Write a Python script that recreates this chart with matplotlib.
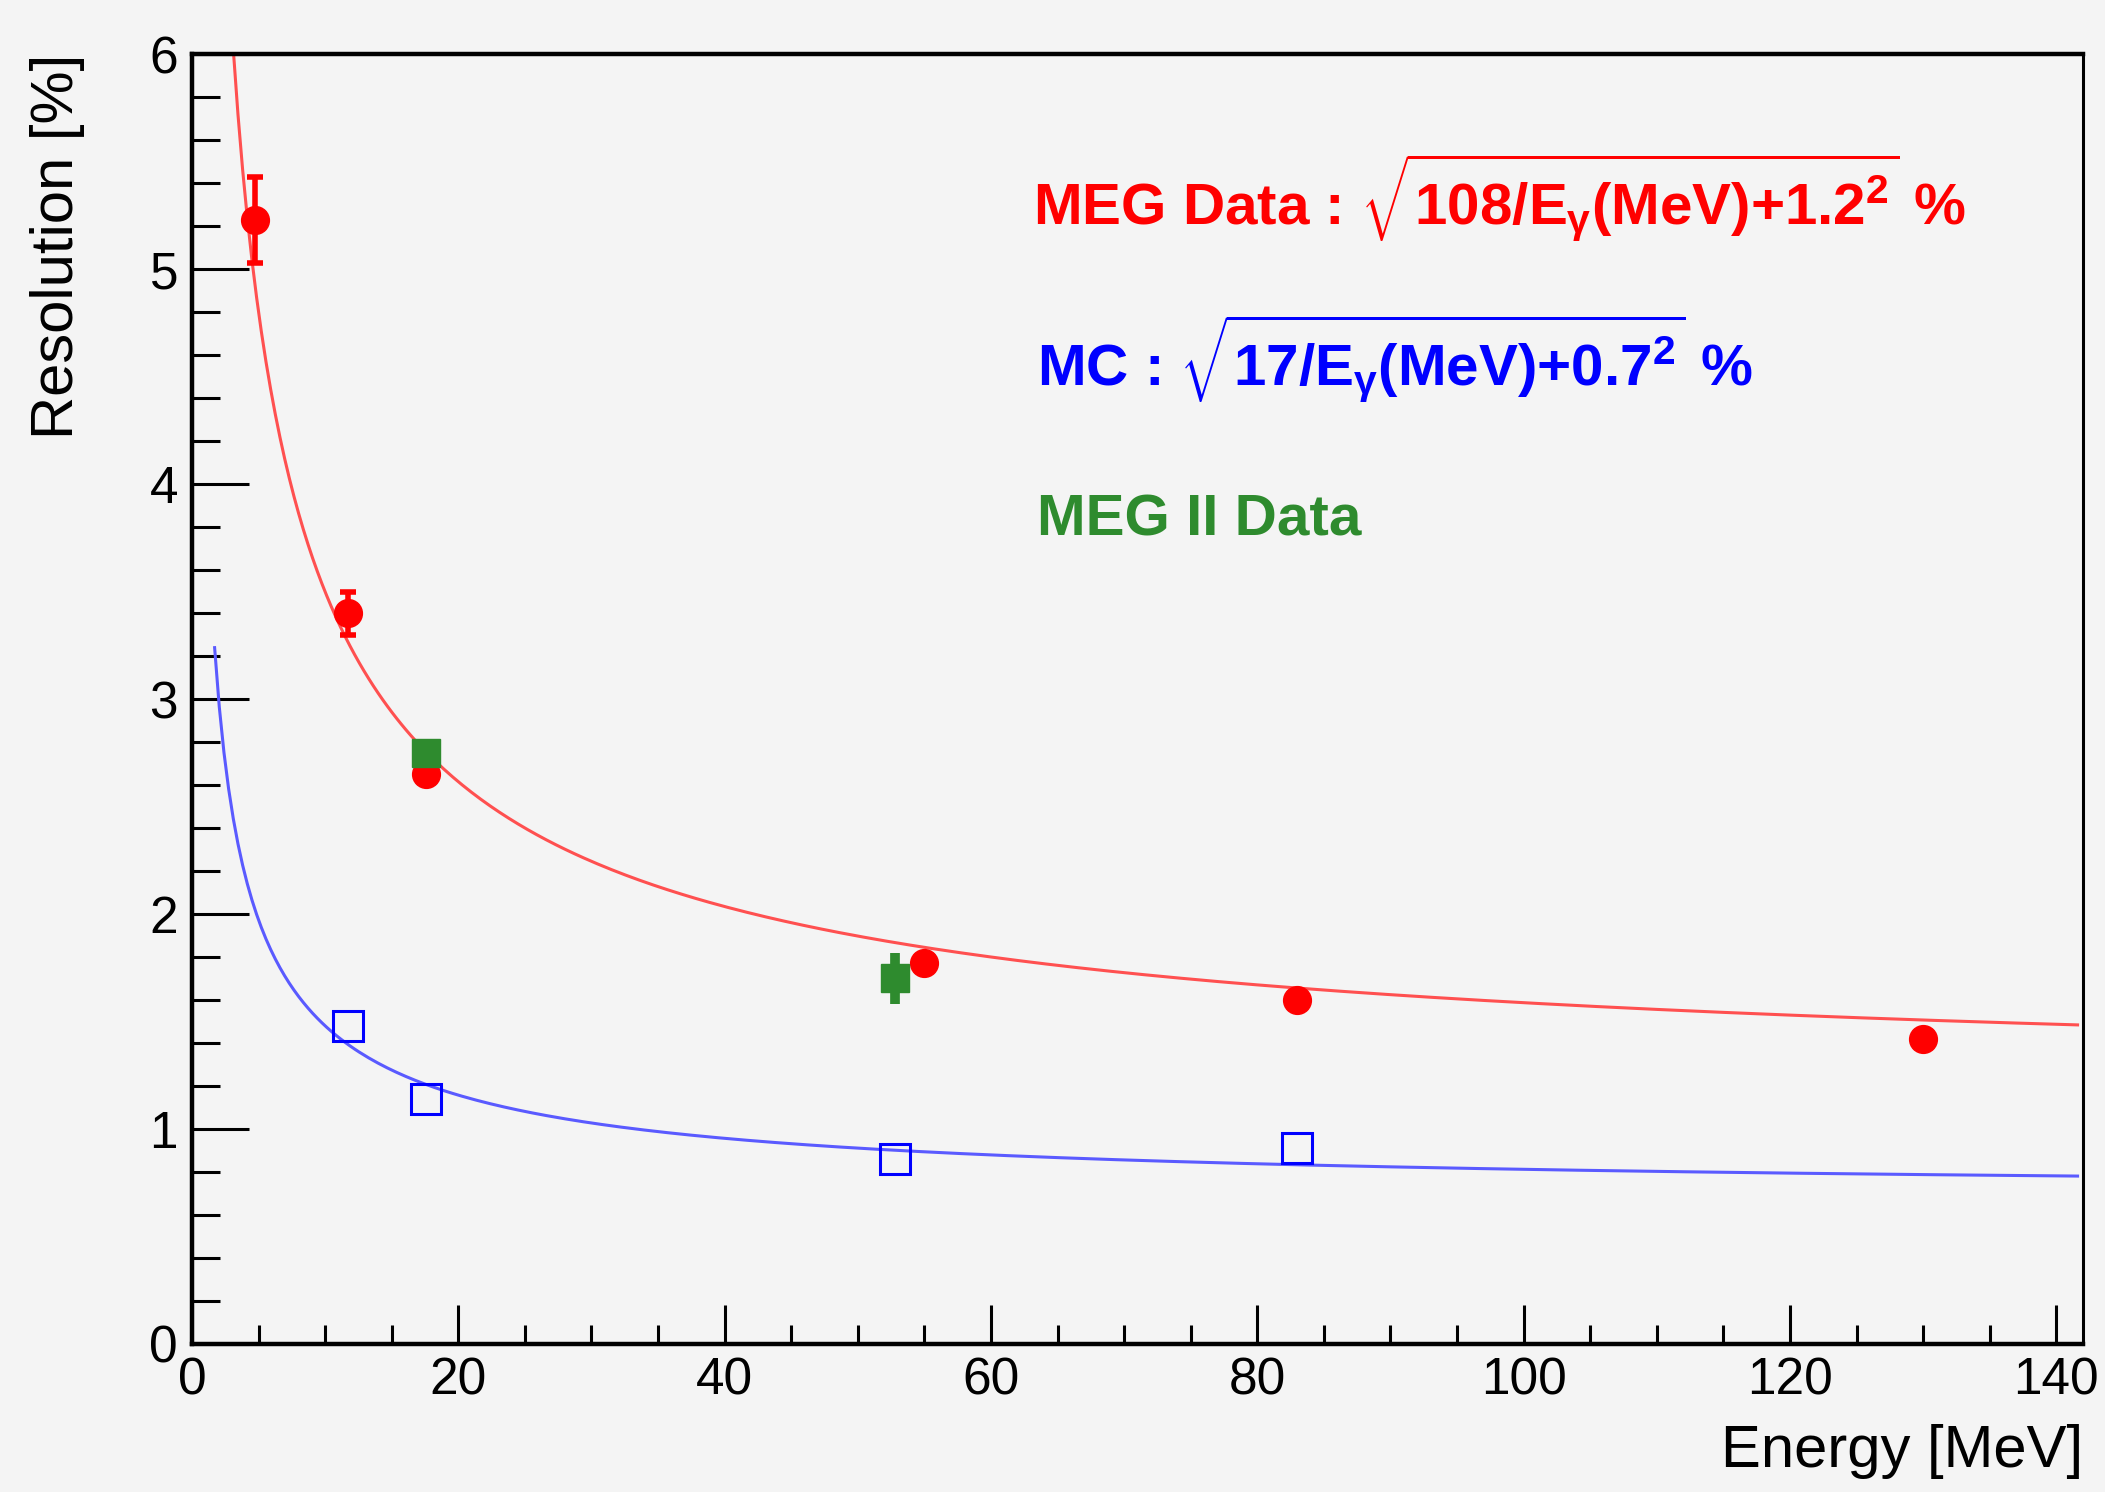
import numpy as np
import matplotlib
matplotlib.use("Agg")
import matplotlib.pyplot as plt
from matplotlib.ticker import MultipleLocator

plt.rcParams['font.family'] = ['Liberation Sans', 'DejaVu Sans']
plt.rcParams['mathtext.fontset'] = 'custom'
plt.rcParams['mathtext.rm'] = 'Liberation Sans:bold'
plt.rcParams['mathtext.it'] = 'Liberation Sans:bold'
plt.rcParams['mathtext.bf'] = 'Liberation Sans:bold'
plt.rcParams['mathtext.sf'] = 'Liberation Sans:bold'

# MEG data (red circles)
meg_e = [4.7, 11.7, 17.6, 55.0, 83.0, 130.0]
meg_res = [5.23, 3.40, 2.65, 1.77, 1.60, 1.42]
meg_err = [0.20, 0.10, 0.0, 0.0, 0.0, 0.0]

# MC (blue open squares)
mc_e = [11.7, 17.6, 52.8, 83.0]
mc_res = [1.48, 1.14, 0.86, 0.91]

# MEG II data (green squares)
megii_e = [17.6, 52.8]
megii_res = [2.75, 1.70]
megii_err = [0.0, 0.12]

# fit parameters shown in the labels: sqrt(a/E + b^2)
meg_fit = (108.0, 1.2)
mc_fit = (17.0, 0.7)

bg = '#f4f4f4'
fig = plt.figure(figsize=(21.05, 14.92), dpi=100, facecolor=bg)
ax = fig.add_axes([0.0912, 0.0992, 0.8983, 0.8646])
ax.set_facecolor(bg)

e = np.linspace(1.7, 141.6, 400)
ax.plot(e, np.sqrt(meg_fit[0] / e + meg_fit[1] ** 2), color='#ff5050', lw=2.2, zorder=2)
ax.plot(e, np.sqrt(mc_fit[0] / e + mc_fit[1] ** 2), color='#5a5aff', lw=2.2, zorder=2)

ax.errorbar(meg_e, meg_res, yerr=meg_err, fmt='o', color='red', ms=20,
            elinewidth=4, capsize=6, capthick=4, zorder=3)
ax.plot(mc_e, mc_res, 's', mfc='none', mec='blue', ms=21, mew=2.2, zorder=3)
ax.errorbar(megii_e, megii_res, yerr=megii_err, fmt='s', color='#2e8b2e', ms=20,
            elinewidth=7, capsize=0, zorder=4)

ax.set_xlim(0, 142)
ax.set_ylim(0, 6)
ax.xaxis.set_major_locator(MultipleLocator(20))
ax.xaxis.set_minor_locator(MultipleLocator(5))
ax.yaxis.set_major_locator(MultipleLocator(1))
ax.yaxis.set_minor_locator(MultipleLocator(0.2))
ax.tick_params(axis='both', which='both', direction='in', top=False, right=False,
               width=2.2, labelsize=37, color='black')
ax.tick_params(axis='x', which='major', length=28, pad=9)
ax.tick_params(axis='x', which='minor', length=14)
ax.tick_params(axis='y', which='major', length=41, pad=10)
ax.tick_params(axis='y', which='minor', length=20)
for s in ['left', 'bottom', 'top']:
    ax.spines[s].set_linewidth(3.2)
ax.spines['right'].set_linewidth(2.2)

ax.text(1.0, -0.095, 'Energy [MeV]', transform=ax.transAxes, ha='right',
        va='baseline', fontsize=43)
ax.text(-0.071, 1.0, 'Resolution [%]', transform=ax.transAxes, rotation=90,
        ha='center', va='top', fontsize=43)

ax.text(0.445, 0.868, r'MEG Data : $\sqrt{108/E_{\gamma}(MeV){+}1.2^{2}}$ %',
        transform=ax.transAxes, color='red', fontsize=42, fontweight='bold',
        va='baseline')
ax.text(0.447, 0.743, r'MC : $\sqrt{17/E_{\gamma}(MeV){+}0.7^{2}}$ %',
        transform=ax.transAxes, color='blue', fontsize=42, fontweight='bold',
        va='baseline')
ax.text(0.447, 0.627, 'MEG II Data', transform=ax.transAxes, color='#2e8b2e',
        fontsize=42, fontweight='bold', va='baseline')

fig.savefig('out.png', dpi=100, facecolor=bg)
